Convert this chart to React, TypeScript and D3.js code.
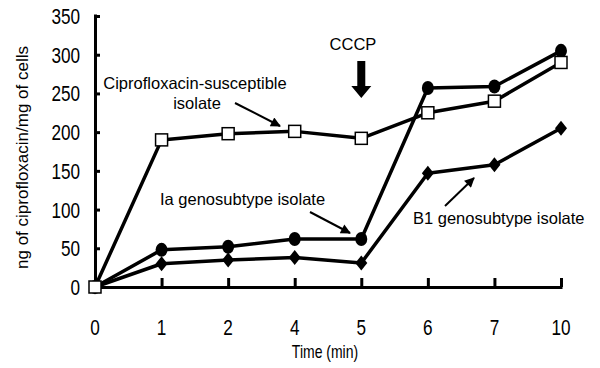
import { useRef, useEffect } from 'react';
import * as d3 from 'd3';

const times = ['0', '1', '2', '4', '5', '6', '7', '10'];
const susceptible = [0, 190, 198, 201, 192, 225, 240, 290];
const iaIsolate = [0, 48, 52, 62, 62, 257, 259, 305];
const b1Isolate = [0, 30, 35, 38, 31, 147, 158, 205];
const yTicks = [0, 50, 100, 150, 200, 250, 300, 350];

const W = 600;
const H = 368;
const X0 = 95;
const X1 = 561;
const Y0 = 287;
const Y1 = 16;

const SANS = '"Liberation Sans", Arial, Helvetica, sans-serif';

export default function App() {
  const svgRef = useRef<SVGSVGElement>(null);

  useEffect(() => {
    const svg = svgRef.current;
    if (!svg) return;
    const root = d3.select(svg);
    root.selectAll('*').remove();

    const x = d3.scalePoint<string>().domain(times).range([X0, X1]);
    const y = d3.scaleLinear().domain([0, 350]).range([Y0, Y1]);

    const defs = root.append('defs');
    defs.append('marker').attr('id', 'ah').attr('viewBox', '0 0 10 10')
      .attr('refX', 9).attr('refY', 5).attr('markerWidth', 12).attr('markerHeight', 10)
      .attr('markerUnits', 'userSpaceOnUse').attr('orient', 'auto')
      .append('path').attr('d', 'M0,0 L10,5 L0,10 Z').attr('fill', '#000');

    // narrow text = regular font squeezed horizontally
    const narrow = (tx: number, ty: number, s: string, size: number, anchor: string, sx = 0.78) =>
      root.append('text').attr('transform', `translate(${tx},${ty}) scale(${sx},1)`)
        .attr('text-anchor', anchor).attr('font-family', SANS).attr('font-size', size)
        .attr('fill', '#000').text(s);

    // Axes
    const yG = root.append('g').attr('transform', `translate(${X0},0)`)
      .call(d3.axisRight(y).tickValues(yTicks).tickSize(5).tickSizeOuter(0).tickFormat(() => ''));
    yG.select('.domain').attr('stroke', '#000').attr('stroke-width', 3).attr('d', `M0.5,${Y1 - 1.5}V${Y0}`);
    yG.selectAll('line').attr('stroke', '#000').attr('stroke-width', 3);

    yTicks.forEach(t => narrow(80, y(t) + 8, String(t), 22, 'end'));

    const xG = root.append('g').attr('transform', `translate(0,${Y0})`)
      .call(d3.axisTop(x).tickSize(9).tickSizeOuter(0).tickFormat(() => ''));
    xG.select('.domain').attr('stroke', '#000').attr('stroke-width', 3).attr('d', `M${X0},0.5H${X1 + 1.5}`);
    xG.selectAll('line').attr('stroke', '#000').attr('stroke-width', 3);
    xG.selectAll('.tick').filter(d => d === '0').remove();

    times.forEach(t => narrow(x(t)!, 335, t, 22, 'middle'));

    narrow(325, 358, 'Time (min)', 17.5, 'middle', 0.8);

    root.append('text').attr('transform', `translate(28,${(Y0 + Y1) / 2 + 6}) rotate(-90)`)
      .attr('text-anchor', 'middle').attr('font-family', SANS).attr('font-size', 17).attr('fill', '#000')
      .text('ng of ciprofloxacin/mg of cells');

    // Lines
    const line = d3.line<number>().x((_, i) => x(times[i])!).y(d => y(d));
    const series = [
      { values: b1Isolate, shape: 'diamond' },
      { values: iaIsolate, shape: 'circle' },
      { values: susceptible, shape: 'square' },
    ];
    series.forEach(s => {
      root.append('path').attr('d', line(s.values)).attr('fill', 'none')
        .attr('stroke', '#000').attr('stroke-width', 3.5).attr('stroke-linejoin', 'round');
    });
    series.forEach(s => {
      const g = root.append('g');
      s.values.forEach((v, i) => {
        const cx = x(times[i])!;
        const cy = y(v);
        if (s.shape === 'square') {
          g.append('rect').attr('x', cx - 6).attr('y', cy - 6).attr('width', 12).attr('height', 12)
            .attr('fill', '#fff').attr('stroke', '#000').attr('stroke-width', 1.5);
        } else if (s.shape === 'circle') {
          g.append('ellipse').attr('cx', cx).attr('cy', cy).attr('rx', 6).attr('ry', 7).attr('fill', '#000');
        } else {
          g.append('path').attr('d', `M${cx},${cy - 7.5}L${cx + 6},${cy}L${cx},${cy + 7.5}L${cx - 6},${cy}Z`).attr('fill', '#000');
        }
      });
    });

    // Annotations
    const txt = (tx: number, ty: number, s: string, anchor = 'start') =>
      root.append('text').attr('x', tx).attr('y', ty).attr('text-anchor', anchor)
        .attr('font-family', SANS).attr('font-size', 16.5).attr('fill', '#000').text(s);
    txt(195, 89, 'Ciprofloxacin-susceptible', 'middle');
    txt(197, 109, 'isolate', 'middle');
    txt(160, 205, 'Ia genosubtype isolate');
    txt(413, 224, 'B1 genosubtype isolate');
    txt(353, 50, 'CCCP', 'middle');

    const arrow = (ax: number, ay: number, bx: number, by: number) =>
      root.append('line').attr('x1', ax).attr('y1', ay).attr('x2', bx).attr('y2', by)
        .attr('stroke', '#000').attr('stroke-width', 2).attr('marker-end', 'url(#ah)');
    arrow(235, 103, 280, 126);
    arrow(310, 212, 350, 233);
    arrow(445, 206, 474, 178);

    const ax = x('5')!;
    root.append('path')
      .attr('d', `M${ax - 4},61H${ax + 4}V86H${ax + 10}L${ax},98L${ax - 10},86H${ax - 4}Z`)
      .attr('fill', '#000');
  }, []);

  return (
    <svg ref={svgRef} width={W} height={H} style={{ display: 'block', position: 'absolute', left: 0, top: 0, background: '#fff' }} />
  );
}
